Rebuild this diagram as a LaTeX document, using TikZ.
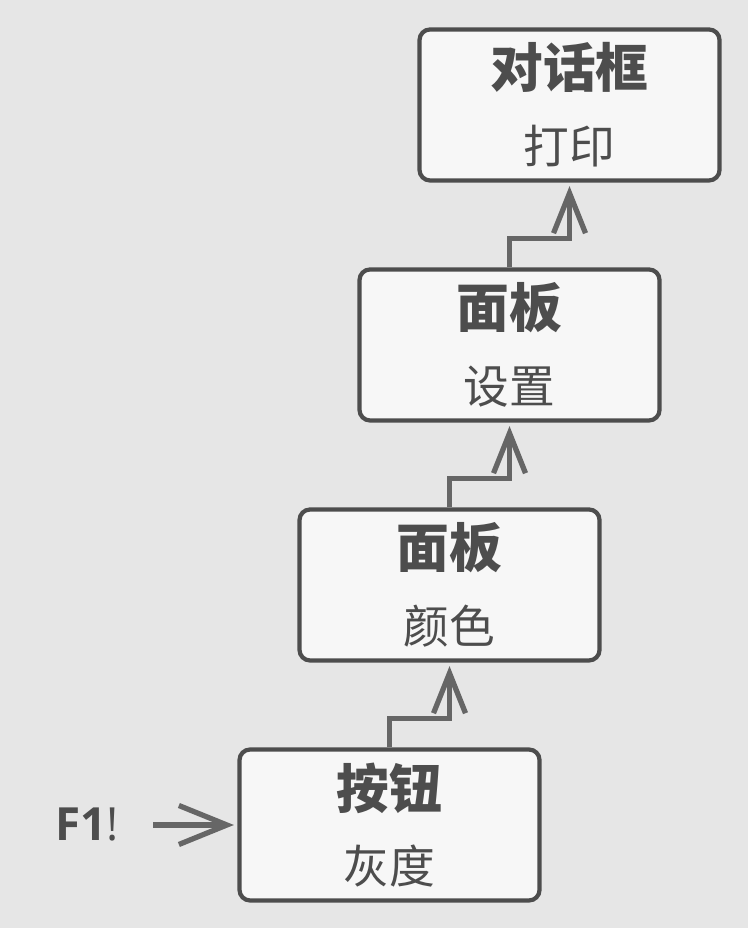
\documentclass[tikz,border=0pt]{standalone}
\usepackage{fontspec}
\setmainfont{Open Sans}
\newfontfamily\cjk{Noto Sans CJK SC}
\usetikzlibrary{arrows.meta}

\definecolor{bggray}{HTML}{E6E6E6}
\definecolor{boxfill}{HTML}{F7F7F7}
\definecolor{boxgray}{HTML}{4D4D4D}
\definecolor{arrowgray}{HTML}{666666}

\newcommand{\boxtitle}[1]{{\fontsize{15}{21.5}\selectfont\bfseries #1}}

\begin{document}
\begin{tikzpicture}[
                        every node/.style={text=boxgray},
                        execute at begin picture={\fill[bggray] (0,0) rectangle (7.48,9.28);} % background and margins
                    ]

    % Define custom styles for the boxes and the arrows
    \tikzset{
        panel/.style={
            draw=boxgray, fill=boxfill, line width=1.2pt, rounded corners=3pt,
            minimum width=3cm, minimum height=1.51cm, align=center,
            font=\cjk\fontsize{13}{21.5}\selectfont
        }
    }
    \tikzset{
        flow/.style={
            draw=arrowgray, line width=1.5pt, shorten >=1pt,
            -{Straight Barb[length=4mm, width=3.2mm]}
        }
    }

    % Boxes, from top to bottom
    \node[panel] (P1) at (5.695, 8.23) {\boxtitle{对话框}\\打印};
    \node[panel] (P2) at (5.095, 5.83) {\boxtitle{面板}\\设置};
    \node[panel] (P3) at (4.495, 3.43) {\boxtitle{面板}\\颜色};
    \node[panel] (P4) at (3.895, 1.03) {\boxtitle{按钮}\\灰度};

    % Key that starts it all
    \node[font=\fontsize{13}{16}\selectfont] (F1) at (0.87, 1.03) {\textbf{F1}!};

    % Edges between boxes
    \foreach \i in {4,3,2} {
        \pgfmathtruncatemacro{\iminusone}{\i-1}
        \draw[flow] (P\i.north) -- ++(0, 0.29) -| (P\iminusone.south);
    }
    \draw[flow, shorten <=0.22cm, -{Straight Barb[length=4.8mm, width=3.9mm]}] (F1) -- (P4);

\end{tikzpicture}
\end{document}
